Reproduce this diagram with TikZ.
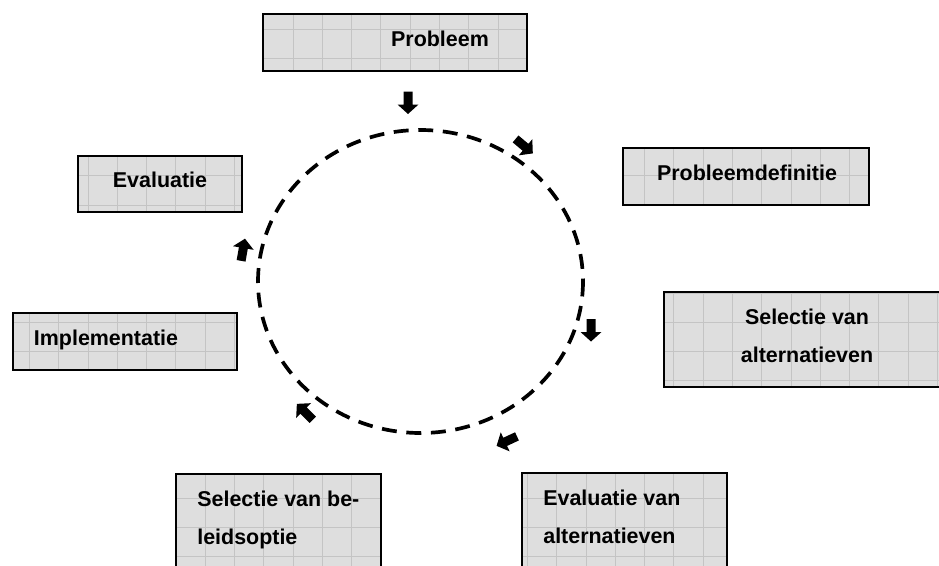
\documentclass[tikz,border=0pt]{standalone}
\usepackage{fontspec}
\setmainfont{Liberation Sans}
\usepackage{tikz}

\definecolor{boxfill}{RGB}{222,222,222}
\definecolor{gridline}{RGB}{196,196,196}

\tikzset{
    box/.style={draw, line width=1.1pt, fill=boxfill,
        path picture={\draw[gridline, line width=0.4pt, step=0.586cm]
            (path picture bounding box.south west) grid (path picture bounding box.north east);}},
    lbl/.style={font=\fontsize{12.2}{21.3}\selectfont\bfseries, inner sep=0pt},
    pics/blockarrow/.style={code={
        \fill (-11,-4.5) -- (2,-4.5) -- (2,-10.5) -- (11.5,0) -- (2,10.5) -- (2,4.5) -- (-11,4.5) -- cycle;}}
}

\begin{document}
\begin{tikzpicture}[x=0.02cm, y=-0.02cm]
    \useasboundingbox (0,0) rectangle (939,565);
    \clip (0,0) rectangle (939,565);

    \draw[box] (263,14) rectangle (527,71);
    \node[lbl, anchor=base] (prob) at (440,46) {Probleem};

    \draw[box] (623,148) rectangle (869,205);
    \node[lbl, anchor=base] (probdef) at (747,180) {Probleemdefinitie};

    \draw[box] (664,292) rectangle (950,387);
    \node[lbl, align=center] (selalt) at (807,336) {Selectie van\\alternatieven};

    \draw[box] (522,473) rectangle (727,580);
    \node[lbl, align=left, anchor=west] (evalalt) at (543,517) {Evaluatie van\\alternatieven};

    \draw[box] (176,474) rectangle (381,580);
    \node[lbl, align=left, anchor=west] (selbel) at (197,520) {Selectie van be-\\leidsoptie};

    \draw[box] (78,156) rectangle (242,212);
    \node[lbl, anchor=base] (eval) at (160,187) {Evaluatie};

    \draw[box] (13,313) rectangle (237,370);
    \node[lbl, anchor=base] (impl) at (106,345) {Implementatie};

    \draw[line width=2.1pt, dash pattern=on 8.5pt off 5.5pt] (420.5,281.5) ellipse [x radius=162.5, y radius=151.5];

    \path (408,102.5) pic[rotate=-90] {blockarrow};
    \path (524,146) pic[rotate=-40] {blockarrow};
    \path (591,330) pic[rotate=-90] {blockarrow};
    \path (507,441) pic[rotate=205] {blockarrow};
    \path (305,412) pic[rotate=135] {blockarrow};
    \path (243,250) pic[rotate=80] {blockarrow};
\end{tikzpicture}
\end{document}
